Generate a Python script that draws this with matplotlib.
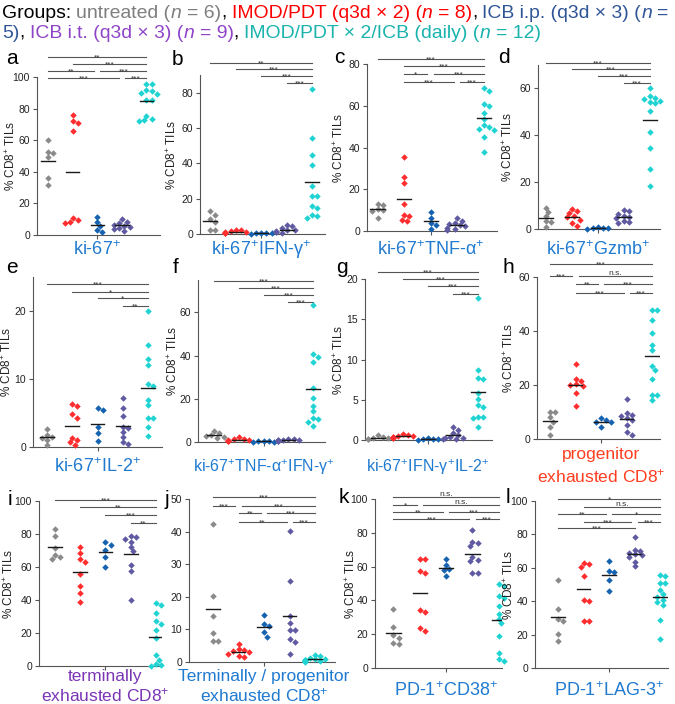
import numpy as np
import matplotlib.pyplot as plt
from matplotlib.transforms import blended_transform_factory as blend

plt.rcParams['font.family'] = ['Liberation Sans', 'DejaVu Sans']
plt.rcParams['mathtext.fontset'] = 'custom'
plt.rcParams['mathtext.rm'] = 'Liberation Sans'
plt.rcParams['mathtext.it'] = 'Liberation Sans:italic'
plt.rcParams['mathtext.bf'] = 'Liberation Sans:bold'

W, H = 675, 704

# groups: untreated, IMOD/PDT, ICB i.p., ICB i.t., IMOD/PDT x2/ICB
COLORS = ['#8a8a8a', '#ff2d2d', '#1462b0', '#5f5aa2', '#1fd3d3']

# ---- valores (% CD8+ TILs) ----
ki67 = [[60, 52.5, 52, 49.5, 36, 31.5],
        [76, 72, 71, 66, 11, 9.5, 8.5, 7.5],
        [11.6, 8.4, 5.7, 3.2, 2.2],
        [10, 8.5, 7.5, 6.5, 6, 5.3, 4.5, 3.5, 2.5],
        [95.8, 95.8, 91.6, 91, 90, 89.5, 85.7, 85.7, 75.2, 73.7, 72.6, 72.4]]
ki67_ifng = [[13, 11, 8.5, 7, 2.5, 2.5],
             [2.5, 2, 1.5, 1.2, 1, 0.8, 0.6, 0.5],
             [0.5, 0.4, 0.3, 0.3, 0.2],
             [5.3, 4.3, 3.4, 2.5, 2, 1.5, 1.1, 0.9, 0.6],
             [82.2, 54.4, 44.6, 39.3, 27, 21.4, 21.4, 15.7, 14.7, 11, 10, 9]]
ki67_tnfa = [[13, 12.3, 10.7, 10, 9.6, 6.2],
             [35.5, 26, 23, 13, 7.7, 7, 5.5, 5],
             [9.1, 6.4, 3.8, 2.7, 1.1],
             [6, 5, 3.8, 3.2, 2.7, 2.2, 1.6, 1.1, 0.6],
             [68.6, 67.2, 60.6, 60, 56.6, 53.6, 50.7, 49.6, 49.1, 48.6, 45.1, 37.9]]
ki67_gzmb = [[9, 7.1, 5.4, 3.3, 2.8, 0.7],
             [8.5, 7.8, 6.8, 5.4, 5.1, 4, 2.6, 1.4],
             [1.0, 0.6, 0.4, 0.3, 0.2],
             [8, 7.5, 6.6, 5.7, 5.1, 4.7, 3.3, 2.8, 2.6],
             [60.3, 56.7, 56, 55.3, 54.8, 54.3, 53.6, 50.3, 41.5, 34.4, 25.4, 18.2]]
ki67_il2 = [[2.6, 1.8, 1.5, 1.3, 1.0, 0.3],
            [6.3, 6.1, 4.8, 4.3, 1.3, 1.0, 0.7, 0.3],
            [5.8, 5.5, 3.0, 2.0, 0.9],
            [7.2, 5.8, 4.6, 3.0, 2.8, 2.2, 1.5, 0.8, 0.4],
            [20, 15, 13, 12, 9.2, 9, 6.9, 6.2, 4.3, 4.3, 3.0, 1.6]]
ki67_tnfa_ifng = [[5, 4, 3.2, 3, 2.5, 1.8],
                  [2.2, 1.5, 1.2, 1, 0.8, 0.6, 0.5, 0.4],
                  [0.5, 0.4, 0.3, 0.2, 0.2],
                  [1.5, 1.2, 1.0, 0.9, 0.8, 0.7, 0.6, 0.5, 0.4],
                  [63.2, 40.9, 39.2, 37.1, 25.2, 20.4, 16.7, 14.2, 11.1, 10.5, 9.4, 7.4]]
ki67_ifng_il2 = [[0.6, 0.4, 0.3, 0.2, 0.15, 0.1],
                 [0.8, 0.6, 0.5, 0.45, 0.4, 0.35, 0.3, 0.25],
                 [0.2, 0.15, 0.1, 0.1, 0.05],
                 [1.65, 1.3, 0.9, 0.6, 0.4, 0.3, 0.2, 0.15, 0.1],
                 [17.7, 8.7, 7.7, 7.6, 5.8, 5.1, 4.35, 4.15, 2.9, 2.8, 2.7, 1.6]]
progenitor = [[9.9, 9.9, 8.1, 6.4, 4.3, 1.5],
              [27.7, 22.3, 21.3, 20.3, 20.1, 19.7, 17, 12.4],
              [7.6, 7.0, 6.4, 6.2, 4.6],
              [14.7, 9.5, 8.9, 8.5, 7.7, 7.1, 5.2, 2.7, 1.5],
              [47.6, 47.6, 43.9, 39.3, 34.9, 32.8, 27.1, 25.6, 22.3, 16.4, 16.4, 14.5]]
terminal = [[83, 79, 71.4, 67.3, 66.3, 64.7],
            [72, 68.4, 64.7, 63.3, 55.8, 48.5, 44, 39],
            [75.3, 73.4, 70.4, 65.9, 60.2],
            [78.5, 78, 77, 75, 72, 69.5, 61, 57.5, 40],
            [38, 37, 32.3, 27.4, 25.4, 21.7, 17, 6.5, 3.9, 1.4, 0.8, 0.2]]
term_prog = [[42.2, 20.1, 14, 8.9, 6.5, 6.5],
             [5.6, 4, 3.6, 3.3, 3, 2.6, 1.9, 1.5],
             [14.5, 11.7, 11.1, 9.1, 7.7],
             [40.2, 24.9, 14, 12.1, 9.9, 9.7, 7, 6, 2.6],
             [2.3, 1.8, 1.2, 1.0, 0.8, 0.7, 0.6, 0.5, 0.4, 0.3, 0.2, 0.1]]
pd1_cd38 = [[35, 24.5, 19.5, 17.5, 15, 14],
            [64.4, 64.4, 57.5, 56.5, 34.4, 32.9, 23.6, 22],
            [64.4, 61, 58.7, 58, 54.5],
            [81.7, 74.8, 74.2, 72.2, 65.9, 64, 63.6, 56.5, 56.5],
            [49.8, 48.8, 42.7, 41.7, 36.4, 32, 28.9, 26.6, 19.1, 8.9, 5.3, 3.9]]
pd1_lag3 = [[52.4, 35.3, 29.3, 27.9, 20.3, 16.3],
            [63, 62, 60.5, 55, 41, 40, 28, 28],
            [64.3, 58, 57.2, 52.4, 46.4],
            [78.7, 70.8, 70.2, 69, 68, 67.5, 66.2, 63.7, 60.8],
            [55.8, 54.8, 50.8, 50.8, 46.8, 44.4, 42.8, 40.8, 39.8, 37.8, 28.5, 17.3]]

# comparacoes: (grupo1, grupo2, rotulo, linha)
cmp_a = [(1, 5, '**', 0), (2, 5, '***', 1), (1, 3, '**', 2), (3, 5, '***', 2),
         (1, 4, '***', 3), (4, 5, '***', 3)]
cmp_b = [(1, 5, '**', 0), (2, 5, '***', 1), (3, 5, '***', 2), (4, 5, '***', 3)]
cmp_c = [(1, 5, '***', 0), (2, 5, '***', 1), (2, 3, '*', 2), (3, 5, '***', 2),
         (2, 4, '***', 3), (4, 5, '***', 3)]
cmp_d = [(1, 5, '***', 0), (2, 5, '***', 1), (3, 5, '***', 2), (4, 5, '***', 3)]
cmp_e = [(1, 5, '***', 0), (2, 5, '*', 1), (3, 5, '*', 2), (4, 5, '**', 3)]
cmp_f = [(1, 5, '***', 0), (2, 5, '***', 1), (3, 5, '***', 2), (4, 5, '***', 3)]
cmp_g = [(1, 5, '***', 0), (2, 5, '***', 1), (3, 5, '***', 2), (4, 5, '***', 3)]
cmp_h = [(1, 5, '***', 0), (1, 2, '***', 1), (2, 5, 'n.s.', 1), (2, 3, '**', 2),
         (3, 5, '***', 2), (2, 4, '***', 3), (4, 5, '***', 3)]
cmp_i = [(1, 5, '***', 0), (2, 5, '**', 1), (3, 5, '***', 2), (4, 5, '**', 3)]
cmp_j = [(1, 5, '***', 0), (1, 2, '***', 1), (2, 5, '***', 1), (2, 3, '**', 2),
         (3, 5, '***', 2), (2, 4, '**', 3), (4, 5, '***', 3)]
cmp_k = [(1, 5, 'n.s.', 0), (1, 2, '*', 1), (2, 5, 'n.s.', 1), (1, 3, '**', 2),
         (3, 5, '***', 2), (1, 4, '***', 3), (4, 5, '***', 3)]
cmp_l = [(1, 5, '*', 0), (2, 5, 'n.s.', 1), (1, 3, '**', 2), (3, 5, '*', 2),
         (2, 4, '***', 3), (4, 5, '***', 3), (1, 4, '***', 4)]

# ---- layout (pixels): left, right, top, bottom, xlim, ytop, ystep ----
GEOM = {
    'a': (37, 160, 77, 235, (0.55, 5.55), 100, 20),
    'b': (200, 325, 75, 234, (0.6, 5.5), 90, 20),
    'c': (367, 497, 64, 231, (0.6, 5.5), 80, 20),
    'd': (538, 660, 65, 229, (0.7, 5.4), 70, 20),
    'e': (33, 162, 277, 447, (0.45, 5.55), 25, 10),
    'f': (198, 325, 280, 442, (0.35, 5.48), 75, 20),
    'g': (365, 492, 279, 440, (0.48, 5.56), 20, 5),
    'h': (537, 660, 277, 439, (0.49, 5.31), 60, 20),
    'i': (39, 162, 501, 666, (0.37, 5.24), 100, 20),
    'j': (189, 335, 499, 662, (0.06, 5.78), 50, 10),
    'k': (375, 502, 499, 668, (0.3, 5.12), 100, 20),
    'l': (535, 668, 501, 668, (0.1, 5.31), 100, 20),
}
ROWS = {'a': [57, 64, 71, 78], 'b': [63, 69, 76, 83], 'c': [59, 66, 74, 82],
        'd': [63, 69, 76, 83], 'e': [284, 292, 298, 306], 'f': [281, 288, 295, 302],
        'g': [272, 279, 286, 294], 'h': [264, 276, 284, 293], 'i': [500, 507, 515, 523],
        'j': [497, 506, 513, 522], 'k': [497, 505, 512, 519], 'l': [499, 507, 514, 522, 528]}
LETTER_POS = {'a': (6, 64), 'b': (172, 65), 'c': (334, 63), 'd': (498, 63),
              'e': (6, 273), 'f': (173, 273), 'g': (336, 273), 'h': (503, 273),
              'i': (8, 505), 'j': (165, 505), 'k': (339, 503), 'l': (506, 503)}
# distancia (px) da borda direita do ylabel ate o eixo
LABEL_OFF = {'a': 19, 'b': 21, 'c': 21, 'd': 23, 'e': 19, 'f': 18, 'g': 19,
             'h': 21, 'i': 23, 'j': 20, 'k': 17, 'l': 19}

BLUE_T = '#1f7ad0'
RED_T = '#ff3d1f'
PURP_T = '#7a35b5'


def swarm(vals, ppu_y, ppu_x, d=5.2):
    vals = np.asarray(vals, float)
    order = np.argsort(-vals)
    placed = []
    offs = np.zeros(len(vals))
    for i in order:
        y = vals[i] * ppu_y
        for k in [0, 1, -1, 2, -2, 3, -3, 4, -4]:
            x = k * d * 0.5
            if all((x - px) ** 2 + (y - py) ** 2 >= d * d * 0.8 for px, py in placed):
                break
        placed.append((x, y))
        offs[i] = x / ppu_x
    return offs


fig = plt.figure(figsize=(W / 100, H / 100), dpi=100)


def painel(key, groups, cmps, titles, tcolor, tsize, ylabel=True):
    l, r, t, b, xl, ytop, ystep = GEOM[key]
    ax = fig.add_axes([l / W, 1 - b / H, (r - l) / W, (b - t) / H])
    ax.set_xlim(*xl)
    ax.set_ylim(0, ytop)
    ppu_y = (b - t) / ytop
    ppu_x = (r - l) / (xl[1] - xl[0])
    for gi, vals in enumerate(groups):
        xs = gi + 1 + swarm(vals, ppu_y, ppu_x)
        ax.plot(xs, vals, 'D', ms=3.3, color=COLORS[gi], mec='none',
                clip_on=False, zorder=3)
        m = np.mean(vals)
        ax.plot([gi + 0.73, gi + 1.27], [m, m], color='#1a1a1a', lw=1.0, zorder=4)

    for s in ['top', 'right']:
        ax.spines[s].set_visible(False)
    for s in ['left', 'bottom']:
        ax.spines[s].set_color('#555555')
        ax.spines[s].set_linewidth(0.8)
    ax.set_yticks(np.arange(0, ytop + 0.01, ystep))
    ax.set_yticklabels([str(int(v)) for v in np.arange(0, ytop + 0.01, ystep)])
    ax.set_xticks([3])
    ax.set_xticklabels([])
    ax.tick_params(length=3, width=0.8, color='#555555', labelsize=7.5,
                   labelcolor='#222222', pad=2)
    if ylabel:
        ax.set_ylabel('% CD8$^{+}$ TILs', fontsize=8.5, color='#222222')
        ax.yaxis.set_label_coords(-LABEL_OFF[key] / (r - l), 0.5)

    # barras de significancia
    tr = blend(ax.transData, fig.transFigure)
    rows = ROWS[key]
    for g1, g2, lab, row in cmps:
        x1 = g1 + (0.12 if any(c[1] == g1 and c[3] == row for c in cmps) else 0)
        x2 = g2 - (0.12 if any(c[0] == g2 and c[3] == row for c in cmps) else 0)
        yp = rows[row]
        ax.plot([x1, x2], [1 - yp / H] * 2, transform=tr, color='#555555',
                lw=0.8, clip_on=False)
        yt = yp + 2.6 if '*' in lab else yp - 1.0
        ax.text((x1 + x2) / 2, 1 - yt / H, lab, transform=tr, fontsize=6,
                ha='center', va='baseline', color='#333333')

    # titulo embaixo
    for txt, yp in titles:
        ax.text(3, 1 - yp / H, txt, transform=tr, ha='center', va='center',
                fontsize=tsize, color=tcolor)

    lx, ly = LETTER_POS[key]
    fig.text(lx / W, 1 - ly / H, key, fontsize=15, va='baseline', color='black')
    return ax


painel('a', ki67, cmp_a, [('ki-67$^{+}$', 250)], BLUE_T, 13)
painel('b', ki67_ifng, cmp_b, [('ki-67$^{+}$IFN-γ$^{+}$', 250)], BLUE_T, 13)
painel('c', ki67_tnfa, cmp_c, [('ki-67$^{+}$TNF-α$^{+}$', 250)], BLUE_T, 13)
painel('d', ki67_gzmb, cmp_d, [('ki-67$^{+}$Gzmb$^{+}$', 250)], BLUE_T, 13)
painel('e', ki67_il2, cmp_e, [('ki-67$^{+}$IL-2$^{+}$', 467)], BLUE_T, 13)
painel('f', ki67_tnfa_ifng, cmp_f, [('ki-67$^{+}$TNF-α$^{+}$IFN-γ$^{+}$', 467)], BLUE_T, 11.5)
painel('g', ki67_ifng_il2, cmp_g, [('ki-67$^{+}$IFN-γ$^{+}$IL-2$^{+}$', 467)], BLUE_T, 11.5)
painel('h', progenitor, cmp_h, [('progenitor', 455), ('exhausted CD8$^{+}$', 476)], RED_T, 12.5)
painel('i', terminal, cmp_i, [('terminally', 677), ('exhausted CD8$^{+}$', 695)], PURP_T, 12.5)
painel('j', term_prog, cmp_j, [('Terminally / progenitor', 677), ('exhausted CD8$^{+}$', 695)],
       BLUE_T, 12.5, ylabel=False)
painel('k', pd1_cd38, cmp_k, [('PD-1$^{+}$CD38$^{+}$', 691)], BLUE_T, 13)
painel('l', pd1_lag3, cmp_l, [('PD-1$^{+}$LAG-3$^{+}$', 691)], BLUE_T, 13)

# ---- cabecalho colorido ----
HG, HR, HB, HP, HT = '#7f7f7f', '#ff0000', '#2f5597', '#8e44c8', '#1ab3ad'
linha1 = [('Groups: ', 'black', 'normal'), ('untreated (', HG, 'normal'), ('n ', HG, 'italic'),
          ('= 6)', HG, 'normal'), (', ', 'black', 'normal'),
          ('IMOD/PDT (q3d × 2) (', HR, 'normal'), ('n ', HR, 'italic'), ('= 8)', HR, 'normal'),
          (', ', 'black', 'normal'), ('ICB i.p. (q3d × 3) (', HB, 'normal'),
          ('n ', HB, 'italic'), ('=', HB, 'normal')]
linha2 = [('5)', HB, 'normal'), (', ', 'black', 'normal'), ('ICB i.t. (q3d × 3) (', HP, 'normal'),
          ('n ', HP, 'italic'), ('= 9)', HP, 'normal'), (', ', 'black', 'normal'),
          ('IMOD/PDT × 2/ICB (daily) (', HT, 'normal'), ('n ', HT, 'italic'),
          ('= 12)', HT, 'normal')]

rend = fig.canvas.get_renderer()


def text_w(s, size, style='normal'):
    t = fig.text(0, 0, s, fontsize=size, style=style)
    w = t.get_window_extent(renderer=rend).width
    t.remove()
    return w


def seg_w(s, size, style):
    core = s.rstrip(' ')
    n = len(s) - len(core)
    sp = text_w('x x', size) - text_w('xx', size)
    return text_w(core, size, style) + n * sp


base = 12.0
total = sum(seg_w(s, base, st) for s, c, st in linha1)
hsize = base * 668 / total

for segs, yb in [(linha1, 18), (linha2, 38)]:
    x = 2.0
    for s, c, st in segs:
        fig.text(x / W, 1 - yb / H, s.rstrip(' '), fontsize=hsize, style=st,
                 color=c, va='baseline')
        x += seg_w(s, hsize, st)

fig.savefig('out.png', dpi=100)
